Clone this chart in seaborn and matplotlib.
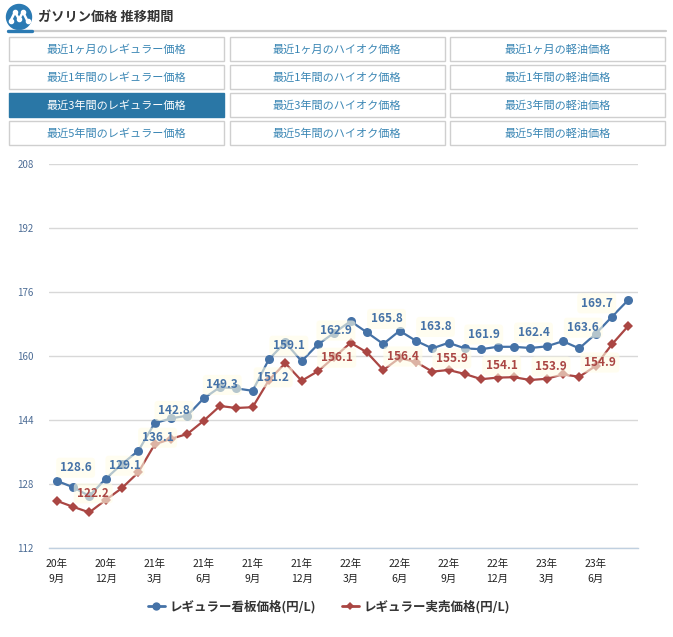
import numpy as np
import pandas as pd
import matplotlib
matplotlib.use('Agg')
import matplotlib.pyplot as plt
from matplotlib.patches import Rectangle, Circle
from matplotlib.lines import Line2D
import seaborn as sns

sns.set_style('white')
plt.rcParams['font.family'] = ['Noto Sans CJK JP', 'DejaVu Sans']

# 2020年9月〜2023年8月 (月次)
months = [str(p) for p in pd.period_range('2020-09', '2023-08', freq='M')]

signboard = [128.8, 127.2, 125.0, 129.3, 133.0, 136.3, 143.2, 144.4, 145.1, 149.4,
             152.2, 151.9, 151.3, 159.2, 163.4, 158.7, 162.9, 165.8, 168.7, 165.9,
             163.0, 166.3, 163.8, 161.9, 163.3, 161.9, 161.7, 162.3, 162.3, 162.0,
             162.4, 163.7, 161.9, 165.5, 169.8, 174.0]
actual = [123.8, 122.3, 120.9, 124.0, 127.0, 130.9, 137.9, 139.3, 140.5, 143.8,
          147.5, 147.0, 147.2, 154.0, 158.2, 153.8, 156.2, 159.7, 163.3, 160.9,
          156.5, 159.5, 158.5, 156.1, 156.5, 155.5, 154.2, 154.6, 154.7, 154.0,
          154.3, 155.4, 154.8, 157.5, 162.9, 167.5]

# データラベル (表示位置はカテゴリ番号)
blue_label_pos = [1.16, 4.18, 6.18, 7.18, 10.14, 13.26, 14.22, 17.1, 20.2, 23.2,
                  26.15, 29.2, 32.25, 33.07]
blue_label_txt = ['128.6', '129.1', '136.1', '142.8', '149.3', '151.2', '159.1',
                  '162.9', '165.8', '163.8', '161.9', '162.4', '163.6', '169.7']
red_label_pos = [2.24, 17.15, 21.2, 24.2, 27.25, 30.27, 33.27]
red_label_txt = ['122.2', '156.1', '156.4', '155.9', '154.1', '153.9', '154.9']

tick_idx = list(range(0, 36, 3))
tick_labels = ['20年\n9月', '20年\n12月', '21年\n3月', '21年\n6月', '21年\n9月', '21年\n12月',
               '22年\n3月', '22年\n6月', '22年\n9月', '22年\n12月', '23年\n3月', '23年\n6月']
y_ticks = [112, 128, 144, 160, 176, 192, 208]

buttons = [['最近1ヶ月のレギュラー価格', '最近1ヶ月のハイオク価格', '最近1ヶ月の軽油価格'],
           ['最近1年間のレギュラー価格', '最近1年間のハイオク価格', '最近1年間の軽油価格'],
           ['最近3年間のレギュラー価格', '最近3年間のハイオク価格', '最近3年間の軽油価格'],
           ['最近5年間のレギュラー価格', '最近5年間のハイオク価格', '最近5年間の軽油価格']]

BLUE = '#4572A7'
RED = '#AA4643'
W, H = 673, 637

df = pd.DataFrame({'month': months, 'idx': range(len(months)),
                   'signboard': signboard, 'actual': actual})

fig = plt.figure(figsize=(W / 100, H / 100), dpi=100)

# ---- header (pixel coordinates) ----
hd = fig.add_axes([0, 0, 1, 1])
hd.set_xlim(0, W)
hd.set_ylim(H, 0)
hd.axis('off')
hd.add_patch(Circle((19, 17), 12.5, color='#2b7ab3'))
hd.plot([10.5, 15, 19, 23, 27.5], [21, 12, 19, 12, 21], color='white', lw=1.8,
        marker='o', ms=3, solid_capstyle='round')
hd.text(38, 17, 'ガソリン価格 推移期間', fontsize=9.5, fontweight='bold',
        color='#333333', va='center', ha='left')
hd.plot([8, 666], [30.5, 30.5], color='#cccccc', lw=1.6)
hd.plot([8, 32], [30.5, 30.5], color='#2b7ab3', lw=2.4)

col_x = [9, 229.5, 450]
col_w = 215
row_y = [37, 65, 93, 121]
row_h = 24
for r, row in enumerate(buttons):
    for c, label in enumerate(row):
        active = (r == 2 and c == 0)
        hd.add_patch(Rectangle((col_x[c], row_y[r]), col_w, row_h,
                               facecolor='#2a77a6' if active else 'white',
                               edgecolor='#2a77a6' if active else '#cfcfcf', lw=1))
        hd.text(col_x[c] + col_w / 2, row_y[r] + row_h / 2 + 0.5, label, fontsize=8,
                color='white' if active else '#3a86b4', ha='center', va='center')

# ---- chart ----
left, right, top, bottom = 49, 638, 164, 548
ax = fig.add_axes([left / W, (H - bottom) / H, (right - left) / W, (bottom - top) / H])
ax.patch.set_alpha(0)

sns.lineplot(data=df, x='idx', y='signboard', ax=ax, color=BLUE, lw=1.6,
             marker='o', markersize=6.5, markeredgewidth=0, label='レギュラー看板価格(円/L)',
             zorder=3)
sns.lineplot(data=df, x='idx', y='actual', ax=ax, color=RED, lw=1.6,
             marker='D', markersize=4.8, markeredgewidth=0, label='レギュラー実売価格(円/L)',
             zorder=3)

for pos, txt in zip(blue_label_pos, blue_label_txt):
    ax.annotate(txt, (pos, float(txt)), xytext=(0, 10), textcoords='offset points',
                ha='center', va='center', fontsize=8.5, fontweight='bold', color=BLUE,
                bbox=dict(boxstyle='round,pad=0.3', fc='#fffde6', ec='none', alpha=0.6),
                zorder=5)
for pos, txt in zip(red_label_pos, red_label_txt):
    ax.annotate(txt, (pos, float(txt)), xytext=(0, 10), textcoords='offset points',
                ha='center', va='center', fontsize=8.5, fontweight='bold', color=RED,
                bbox=dict(boxstyle='round,pad=0.3', fc='#fffde6', ec='none', alpha=0.6),
                zorder=5)

ax.set_xlim(-0.47, 35.6)
ax.set_ylim(112, 208)
ax.set_yticks(y_ticks)
ax.set_yticklabels([str(v) for v in y_ticks], fontsize=7, color='#4d6d96')
ax.set_xticks(tick_idx)
ax.set_xticklabels(tick_labels, fontsize=7.5, color='#222222', linespacing=1.6)
ax.tick_params(axis='y', length=0, pad=11)
ax.tick_params(axis='x', length=5, width=1, color='#c0d0e0', pad=3, direction='out')
ax.yaxis.grid(True, color='#d8d8d8', lw=1)
ax.xaxis.grid(False)
for s in ['top', 'right', 'left']:
    ax.spines[s].set_visible(False)
ax.spines['bottom'].set_color('#c0d0e0')
ax.spines['bottom'].set_linewidth(1)
ax.set_xlabel('')
ax.set_ylabel('')

ax.legend_.remove()
handles = [Line2D([], [], color=BLUE, lw=2, marker='o', ms=6, mew=0),
           Line2D([], [], color=RED, lw=2, marker='D', ms=4.5, mew=0)]
fig.legend(handles, ['レギュラー看板価格(円/L)', 'レギュラー実売価格(円/L)'],
           loc='center', bbox_to_anchor=(329 / W, (H - 607) / H), ncol=2, frameon=False,
           prop={'size': 9, 'weight': 'bold'}, handlelength=1.4, handletextpad=0.4,
           columnspacing=2.0, labelcolor='#333333')

fig.savefig('out.png', dpi=100)
